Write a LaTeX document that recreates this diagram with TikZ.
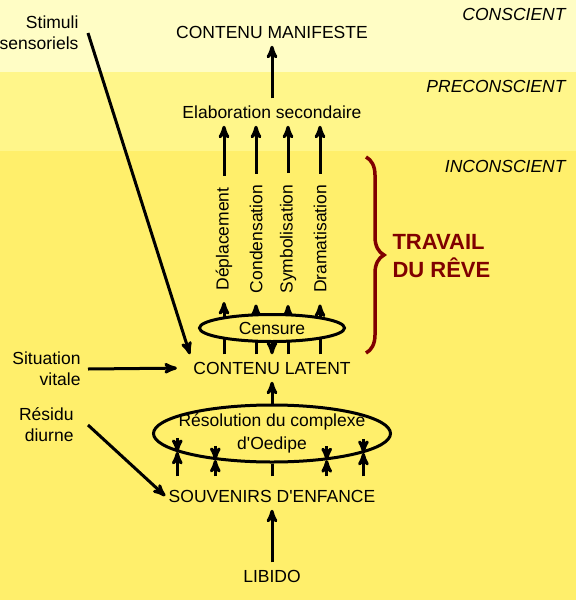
\documentclass[tikz,border=0pt]{standalone}
\usepackage{fontspec}
\setmainfont{Liberation Sans}
\usetikzlibrary{arrows,shapes,decorations.pathreplacing}

\definecolor{zoneC}{HTML}{FFFDC5}
\definecolor{zoneP}{HTML}{FFF68A}
\definecolor{zoneI}{HTML}{FFEF6B}
\definecolor{reve}{HTML}{800000}

\begin{document}
\begin{tikzpicture}[x=1pt,y=-1pt,>=stealth',line width=3pt,
        every node/.style={font=\fontsize{17.5}{21}\selectfont}]
        \tikzstyle{etat}=[inner xsep=2pt,inner ysep=6pt,text height=12.5pt,text depth=0pt]
        \tikzstyle{travail}=[rotate=90,inner xsep=10pt,inner ysep=0pt]
        \tikzstyle{zone}=[anchor=east,inner sep=0pt,font=\fontsize{17.5}{21}\selectfont\itshape]
        \tikzstyle{source}=[anchor=east,inner sep=0pt,align=right]
        \tikzstyle{filtre}=[ellipse,draw,fill=zoneI,inner sep=0pt]
        \tikzstyle{reve text}=[anchor=west,inner sep=0pt,align=left,text=reve,
            font=\fontsize{22}{28}\selectfont\bfseries]

        \useasboundingbox (0,0) rectangle (576,600);
        % zones
        \fill[zoneC] (0,0) rectangle (576,72);
        \fill[zoneP] (0,72) rectangle (576,151);
        \fill[zoneI] (0,151) rectangle (576,600);
        \node[zone] (cons) at (567,14) {CONSCIENT};
        \node[zone] (precons) at (567,86) {PRECONSCIENT};
        \node[zone] (incons) at (567,166) {INCONSCIENT};

        \node[etat] (mani) at (272,32) {CONTENU MANIFESTE};
        \node[etat] (elab) at (272,112) {Elaboration secondaire};
        \node[travail] (depl) at (224,239) {Déplacement};
        \node[travail] (cond) at (256,239) {Condensation};
        \node[travail] (symb) at (288,239) {Symbolisation};
        \node[travail] (dram) at (320,239) {Dramatisation};
        \node[etat] (lat) at (272,368) {CONTENU LATENT};
        \node[etat] (souv) at (272,496) {SOUVENIRS D\textquotesingle ENFANCE};
        \node[etat] (lib) at (272,576) {LIBIDO};

        \node[source] (stim) at (80,33) {Stimuli\\sensoriels};
        \node[source] (sit) at (82,369) {Situation\\vitale};
        \node[source] (res) at (75,425) {Résidu\\diurne};
        \node[reve text] (trav) at (391,256) {TRAVAIL\\DU RÊVE};

        \draw[->] (elab.north) -- (mani.south);
        \foreach \t in {depl,cond,symb,dram}{
            \draw[->] (\t.west |- lat.north) -- (\t.west);
            \draw[->] (\t.east) -- (\t.east |- elab.south);
        }
        \node[filtre,minimum width=145pt,minimum height=27pt] (cens) at (272,328) {Censure};
        \draw[->] (cens.south) -- (lat.north);

        \draw[reve,line width=3.5pt,decorate,decoration={brace,amplitude=18pt}] (366,157) -- (366,353);

        % complexe d'Oedipe
        \node[filtre,inner xsep=-14pt,minimum width=237pt,minimum height=57pt,align=center] (oed) at (272,433.5)
            {Résolution du complexe\\[2pt]d\textquotesingle Oedipe};
        \coordinate (sv) at ([yshift=6pt]souv.north);
        \draw[->] (oed.north) -- (lat.south);
        \draw (sv) -- (oed.south);
        \foreach \a in {191.8,205.5,334.5,348.3}{
            \draw[->] (oed.\a |- sv) -- (oed.\a);
            \draw[->] ([yshift=14pt]oed.\a) -- (oed.\a);
        }
        \draw[->] (lib.north) -- (souv.south);

        \draw[->] ([xshift=8pt]stim.east) -- (lat.north west);
        \draw[->,shorten >=13pt] ([xshift=6pt]sit.east) -- (lat.west);
        \draw[->] ([xshift=13pt]res.east) -- (souv.west);
\end{tikzpicture}
\end{document}
